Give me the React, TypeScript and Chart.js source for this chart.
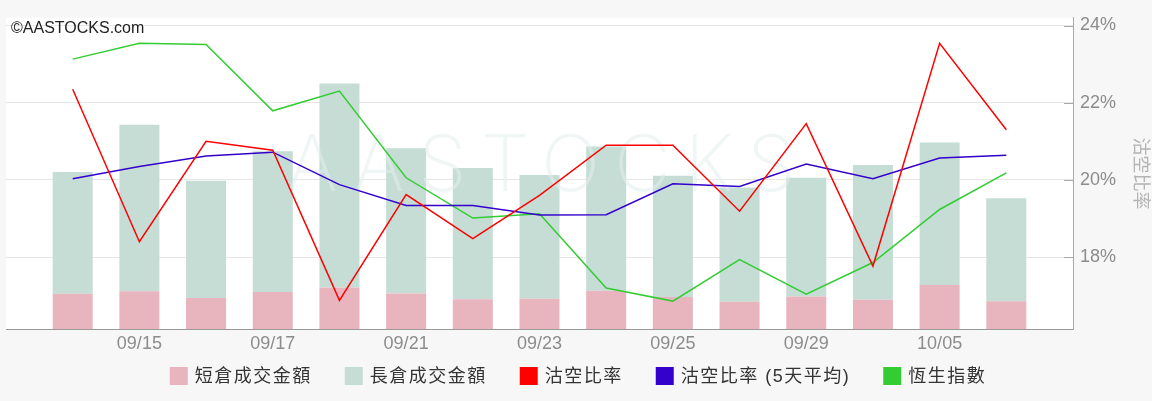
import React, { useEffect, useRef } from 'react';
import { Chart, registerables } from 'chart.js';

Chart.register(...registerables);

// ---- data ----
const dates = ['09/14', '09/15', '09/16', '09/17', '09/18', '09/21', '09/22', '09/23', '09/24', '09/25', '09/28', '09/29', '09/30', '10/05', '10/06'];
const shortTurnover = [258, 276, 228, 271, 304, 260, 218, 222, 280, 235, 199, 238, 214, 322, 204];
const longTurnover = [894, 1222, 859, 1032, 1496, 1065, 963, 908, 1059, 888, 838, 871, 988, 1046, 754];
const shortRatio = [22.35, 18.4, 21.0, 20.77, 16.88, 19.62, 18.48, 19.6, 20.9, 20.9, 19.19, 21.46, 17.77, 23.54, 21.3];
const shortRatio5d = [20.03, 20.35, 20.62, 20.72, 19.88, 19.34, 19.34, 19.09, 19.1, 19.9, 19.83, 20.41, 20.03, 20.57, 20.64];
const hsi = [24640, 24732, 24725, 24340, 24455, 23951, 23717, 23742, 23311, 23235, 23476, 23275, 23459, 23767, 23980];
const ratioTicks = [18, 20, 22, 24];
const seriesNames = ['短倉成交金額', '長倉成交金額', '沽空比率', '沽空比率 (5天平均)', '恆生指數'];
const seriesColors = ['#e8b5bf', '#c5ddd5', '#ff0000', '#3300cc', '#33cc33'];
const axisTitle = '沽空比率';
const copyright = '©AASTOCKS.com';
const watermark = 'AASTOCKS';

const FONT = '"Liberation Sans", Arial, "Noto Sans CJK TC", sans-serif';

// one empty slot on each side of the category axis
const labels = ['', ...dates, ''];
const pad = (a: number[]) => [null, ...a, null];

const decor = {
  id: 'decor',
  beforeDraw(chart: any) {
    const { ctx, chartArea: a } = chart;
    ctx.save();
    ctx.fillStyle = '#ffffff';
    ctx.fillRect(a.left, a.top, a.right - a.left, a.bottom - a.top);
    ctx.restore();
  },
  afterDatasetDraw(chart: any, args: any) {
    if (args.index !== 0) return;
    const { ctx, chartArea: a } = chart;
    ctx.save();
    ctx.beginPath();
    ctx.rect(a.left, a.top, a.right - a.left, a.bottom - a.top);
    ctx.clip();
    ctx.font = '200 78px Inter, "Liberation Sans Narrow", ' + FONT;
    if ('letterSpacing' in ctx) (ctx as any).letterSpacing = '14px';
    ctx.textAlign = 'center';
    ctx.textBaseline = 'middle';
    ctx.fillStyle = 'rgba(228,236,236,0.55)';
    ctx.fillText(watermark, 548, 168);
    ctx.restore();
  },
  afterDraw(chart: any) {
    const { ctx, chartArea: a } = chart;
    const ys = chart.scales.yRatio;
    ctx.save();
    // inner tick marks of the right axis
    ctx.strokeStyle = '#aaaaaa';
    ctx.lineWidth = 1;
    ratioTicks.forEach((v) => {
      const y = Math.round(ys.getPixelForValue(v)) + 0.5;
      ctx.beginPath();
      ctx.moveTo(a.right - 9, y);
      ctx.lineTo(a.right, y);
      ctx.stroke();
    });
    // copyright
    ctx.font = '16px ' + FONT;
    ctx.fillStyle = '#222222';
    ctx.textAlign = 'left';
    ctx.textBaseline = 'alphabetic';
    ctx.fillText(copyright, 11, 33);
    // legend
    ctx.font = '18px ' + FONT;
    if ('letterSpacing' in ctx) (ctx as any).letterSpacing = '1.5px';
    const box = 18, gapText = 7, gapItem = 33;
    const items = chart.data.datasets.map((d: any) => ({ label: d.label, color: d.legendColor }));
    const widths = items.map((it: any) => box + gapText + ctx.measureText(it.label).width);
    const total = widths.reduce((s: number, w: number) => s + w, 0) + gapItem * (items.length - 1);
    let x = (chart.width - total) / 2 + 2;
    const boxTop = 367;
    ctx.textBaseline = 'middle';
    items.forEach((it: any, i: number) => {
      ctx.fillStyle = it.color;
      ctx.fillRect(x, boxTop, box, box);
      ctx.fillStyle = '#333333';
      ctx.fillText(it.label, x + box + gapText, boxTop + box / 2 + 1);
      x += widths[i] + gapItem;
    });
    ctx.restore();
  },
};

export default function App() {
  const ref = useRef<HTMLCanvasElement>(null);
  useEffect(() => {
    const line = (i: number, data: number[], axis: string) => ({
      type: 'line' as const,
      label: seriesNames[i],
      data: pad(data),
      yAxisID: axis,
      borderColor: seriesColors[i],
      backgroundColor: seriesColors[i],
      legendColor: seriesColors[i],
      borderWidth: 1.5,
      pointRadius: 0,
      tension: 0,
      order: 1,
    });
    const bar = (i: number, data: number[]) => ({
      type: 'bar' as const,
      label: seriesNames[i],
      data: pad(data),
      yAxisID: 'yBar',
      stack: 'turnover',
      backgroundColor: seriesColors[i],
      legendColor: seriesColors[i],
      borderWidth: 0,
      categoryPercentage: 1,
      barPercentage: 0.6,
      order: 2,
    });
    const chart = new Chart(ref.current!, {
      type: 'bar',
      data: {
        labels,
        datasets: [
          bar(0, shortTurnover),
          bar(1, longTurnover),
          line(2, shortRatio, 'yRatio'),
          line(3, shortRatio5d, 'yRatio'),
          line(4, hsi, 'yHsi'),
        ] as any,
      },
      options: {
        responsive: false,
        animation: false,
        layout: { padding: { left: 6, top: 12, right: 0, bottom: 44 } },
        plugins: { legend: { display: false }, tooltip: { enabled: false } },
        scales: {
          x: {
            offset: false,
            grid: { display: false, drawTicks: false },
            border: { display: true, color: '#999999', width: 1 },
            ticks: {
              autoSkip: false,
              maxRotation: 0,
              padding: 4,
              color: '#8c8c8c',
              font: { family: FONT, size: 18 },
              callback: (_v: any, idx: number) => (idx > 0 && idx < labels.length - 1 && idx % 2 === 0 ? labels[idx] : ''),
            },
            afterFit: (s: any) => { s.height = 28; },
          },
          yRatio: {
            position: 'right',
            min: 16.14,
            max: 24.2,
            stacked: false,
            afterBuildTicks: (s: any) => { s.ticks = ratioTicks.map((v) => ({ value: v })); },
            grid: { color: '#e6e6e6', drawTicks: false },
            border: { display: true, color: '#aaaaaa', width: 1 },
            ticks: {
              padding: 7,
              color: '#8c8c8c',
              font: { family: FONT, size: 18 },
              callback: (v: any) => v + '%',
            },
            title: {
              display: true,
              text: axisTitle,
              color: '#b4b4b4',
              font: { family: FONT, size: 18 },
              padding: { top: 1, bottom: 0 },
            },
            afterFit: (s: any) => { s.width = 79; },
          },
          yBar: { display: false, min: 0, max: 2282, stacked: true },
          yHsi: { display: false, min: 23073, max: 24880, stacked: false },
        },
      } as any,
      plugins: [decor],
    });
    return () => chart.destroy();
  }, []);
  return (
    <div style={{ position: 'fixed', left: 0, top: 0, width: 1152, height: 401, background: '#f7f7f7' }}>
      <canvas ref={ref} width={1152} height={401} style={{ display: 'block' }} />
    </div>
  );
}
